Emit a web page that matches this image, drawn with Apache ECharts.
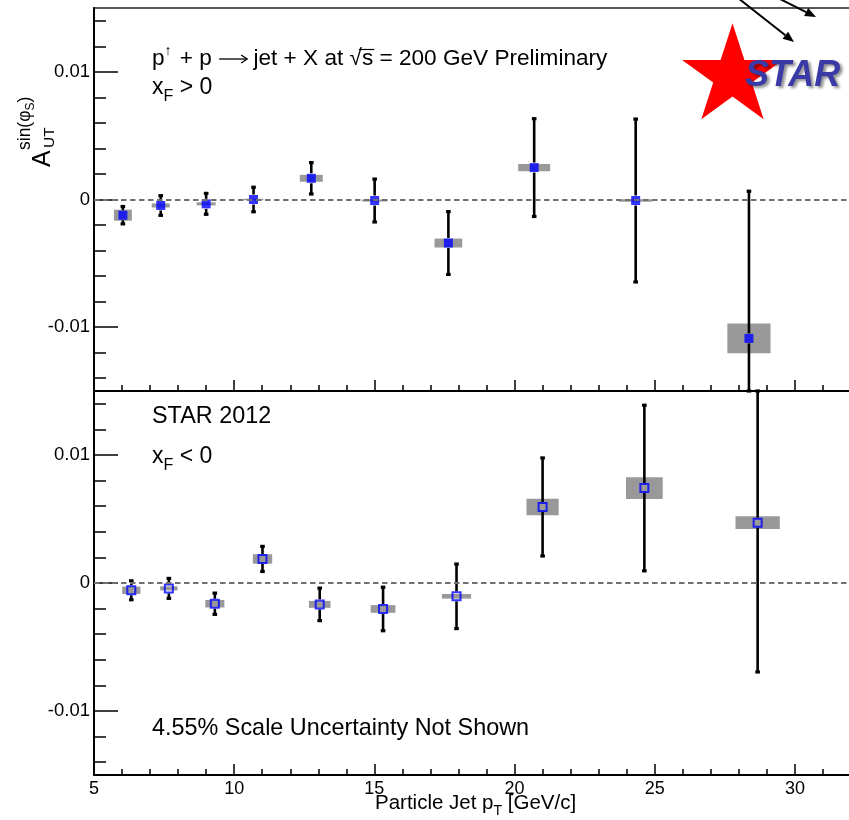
<!DOCTYPE html>
<html>
<head>
<meta charset="utf-8">
<script src="https://cdn.jsdelivr.net/npm/echarts@6/dist/echarts.min.js"></script>
<style>
  html, body { margin: 0; padding: 0; background: #fff; }
  #chart { width: 849px; height: 820px; }
</style>
</head>
<body>
<div id="chart"></div>
<script>
// A_UT^{sin(phi_S)} for particle jets vs pT, STAR 2012, two x_F hemispheres.

// x_F > 0 (upper panel)
const ptFwd   = [6.03, 7.38, 9.00, 10.69, 12.75, 15.01, 17.64, 20.70, 24.32, 28.36];
const aFwd    = [-0.00123, -0.00047, -0.00034, 0.00000, 0.00166, -0.00008, -0.00341, 0.00250, -0.00008, -0.01088];
const statFwd = [0.00068, 0.00077, 0.00082, 0.00096, 0.00123, 0.00168, 0.00246, 0.00383, 0.00638, 0.01153];
const sysFwd  = [0.00043, 0.00016, 0.00012, 0.00006, 0.00027, 0.00008, 0.00035, 0.00029, 0.00010, 0.00117];
const binWFwd = [0.64, 0.64, 0.68, 0.70, 0.82, 0.90, 0.99, 1.14, 1.18, 1.54];

// x_F < 0 (lower panel)
const ptBwd   = [6.33, 7.67, 9.31, 11.01, 13.05, 15.31, 17.93, 21.00, 24.63, 28.67];
const aBwd    = [-0.00057, -0.00042, -0.00162, 0.00188, -0.00167, -0.00203, -0.00104, 0.00594, 0.00742, 0.00471];
const statBwd = [0.00074, 0.00078, 0.00083, 0.00098, 0.00127, 0.00170, 0.00252, 0.00383, 0.00647, 0.01166];
const sysBwd  = [0.00029, 0.00016, 0.00029, 0.00037, 0.00027, 0.00030, 0.00018, 0.00065, 0.00085, 0.00050];
const binWBwd = [0.65, 0.62, 0.68, 0.69, 0.77, 0.88, 1.04, 1.15, 1.31, 1.58];

// Axis ticks and labels
const xMajorTicks = [5, 10, 15, 20, 25, 30];
const xMinorTicks = [5, 6, 7, 8, 9, 10, 11, 12, 13, 14, 15, 16, 17, 18, 19, 20, 21, 22, 23, 24, 25, 26, 27, 28, 29, 30, 31, 32];
const yMajorTicks = [-0.01, 0, 0.01];
const yMinorTicks = [-0.014, -0.012, -0.01, -0.008, -0.006, -0.004, -0.002, 0, 0.002, 0.004, 0.006, 0.008, 0.01, 0.012, 0.014];

const FONT = '"Liberation Sans", Arial, Helvetica, sans-serif';

function rows(pt, a, stat, sys, w) {
  return pt.map((x, i) => [x, a[i], stat[i], sys[i], w[i]]);
}

function renderSys(params, api) {
  const x = api.value(0), y = api.value(1), s = api.value(3), w = api.value(4);
  const p0 = api.coord([x - w / 2, y + s]);
  const p1 = api.coord([x + w / 2, y - s]);
  return {
    type: 'rect',
    shape: { x: p0[0], y: p0[1], width: p1[0] - p0[0], height: p1[1] - p0[1] },
    style: { fill: '#999999' }
  };
}

function renderErr(params, api) {
  const x = api.value(0), y = api.value(1), e = api.value(2);
  const c = api.coord([x, y]);
  const cs = params.coordSys;
  const yTop = Math.max(api.coord([x, y + e])[1], cs.y);
  const yBot = Math.min(api.coord([x, y - e])[1], cs.y + cs.height);
  const gap = 5;
  const kids = [];
  const seg = (y1, y2) => ({ type: 'line', shape: { x1: c[0], y1: y1, x2: c[0], y2: y2 },
                             style: { stroke: '#000', lineWidth: 2.6 } });
  if (c[1] - gap > yTop) kids.push(seg(yTop, c[1] - gap));
  if (c[1] + gap < yBot) kids.push(seg(c[1] + gap, yBot));
  [yTop, yBot].forEach(yy => kids.push({ type: 'rect',
    shape: { x: c[0] - 2.3, y: yy - 1.6, width: 4.6, height: 3.2 }, style: { fill: '#000' } }));
  return { type: 'group', children: kids };
}

function xAxes(grid, withLabels) {
  return [
    { gridIndex: grid, type: 'value', min: 5, max: 32, position: 'bottom',
      axisLine: { show: true, onZero: false, lineStyle: { color: '#000', width: 2 } },
      axisTick: { show: true, inside: true, length: 11, customValues: xMajorTicks,
                  lineStyle: { color: '#000', width: 1.5 } },
      axisLabel: { show: withLabels, customValues: xMajorTicks, margin: 5,
                   fontFamily: FONT, fontSize: 18, color: '#000' },
      splitLine: { show: false } },
    { gridIndex: grid, type: 'value', min: 5, max: 32, position: 'bottom',
      axisLine: { show: false, onZero: false },
      axisTick: { show: true, inside: true, length: 6, customValues: xMinorTicks,
                  lineStyle: { color: '#000', width: 1.5 } },
      axisLabel: { show: false }, splitLine: { show: false } }
  ];
}

function yAxes(grid) {
  return [
    { gridIndex: grid, type: 'value', min: -0.015, max: 0.015, position: 'left',
      axisLine: { show: true, onZero: false, lineStyle: { color: '#000', width: 2 } },
      axisTick: { show: true, inside: true, length: 24, customValues: yMajorTicks,
                  lineStyle: { color: '#000', width: 1.5 } },
      axisLabel: { show: true, customValues: yMajorTicks, margin: 4,
                   fontFamily: FONT, fontSize: 18.5, color: '#000',
                   formatter: v => (v === 0 ? '0' : String(v)) },
      splitLine: { show: false } },
    { gridIndex: grid, type: 'value', min: -0.015, max: 0.015, position: 'left',
      axisLine: { show: false, onZero: false },
      axisTick: { show: true, inside: true, length: 12, customValues: yMinorTicks,
                  lineStyle: { color: '#000', width: 1.5 } },
      axisLabel: { show: false }, splitLine: { show: false } }
  ];
}

function panelSeries(xi, yi, data, filled) {
  return [
    { type: 'custom', xAxisIndex: xi, yAxisIndex: yi, z: 1, silent: true,
      renderItem: renderSys, data: data, encode: { x: 0, y: 1 } },
    { type: 'custom', xAxisIndex: xi, yAxisIndex: yi, z: 2, silent: true,
      renderItem: renderErr, data: data, encode: { x: 0, y: 1 } },
    { type: 'scatter', xAxisIndex: xi, yAxisIndex: yi, z: 3, silent: true,
      symbol: 'rect', symbolSize: filled ? 9 : 8,
      itemStyle: filled ? { color: '#0000ff' }
                        : { color: 'rgba(0,0,0,0)', borderColor: '#0000ff', borderWidth: 2 },
      data: data.map(r => [r[0], r[1]]) },
    { type: 'scatter', xAxisIndex: xi, yAxisIndex: yi, z: 5, silent: true, data: [],
      markLine: { silent: true, symbol: ['none', 'none'], label: { show: false },
                  lineStyle: { color: '#707070', width: 2, type: [5.5, 3.5] },
                  data: [{ yAxis: 0 }] } }
  ];
}

// Lay out a run of text pieces on one baseline (sub/superscripts via dy)
const measure = document.createElement('canvas').getContext('2d');
function textRun(x0, baseline, size, pieces) {
  let cx = x0;
  const els = [], spans = [];
  pieces.forEach(p => {
    const fs = p.size || size;
    const font = 'normal normal ' + fs + 'px ' + FONT;
    measure.font = font;
    const w = p.t ? measure.measureText(p.t).width : 0;
    if (p.t) {
      els.push({ type: 'text', x: cx, y: baseline + (p.dy || 0) - 0.35 * fs,
        style: { text: p.t, font: font, fill: '#000', align: 'left', verticalAlign: 'middle' } });
    }
    spans.push({ x: cx, w: w + (p.after || 0) });
    cx += w + (p.after || 0);
  });
  return { els: els, spans: spans };
}

const graphics = [];

// Upper-panel annotation
const title = textRun(152, 66.5, 22.6, [
  { t: 'p' }, { t: '\u2191', size: 14, dy: -10, after: 2 }, { t: ' + p ' }, { t: '', after: 29 },
  { t: ' jet + X at ' }, { t: '\u221A' }, { t: 's' }, { t: ' = 200 GeV Preliminary' }
]);
graphics.push(...title.els);
{
  // reaction arrow
  const a = title.spans[3], ay = 66.5 - 7.5;
  const x1 = a.x + 1, x2 = a.x + a.w;
  graphics.push({ type: 'line', shape: { x1: x1, y1: ay, x2: x2, y2: ay }, style: { stroke: '#000', lineWidth: 1.3 } });
  graphics.push({ type: 'polyline', shape: { points: [[x2 - 6, ay - 4], [x2, ay], [x2 - 6, ay + 4]] },
                  style: { stroke: '#000', lineWidth: 1.3, fill: null } });
  // overline of the square root
  const r = title.spans[5], s = title.spans[6];
  graphics.push({ type: 'line', shape: { x1: r.x + r.w * 0.75, y1: 66.5 - 17, x2: s.x + s.w + 1, y2: 66.5 - 17 },
                  style: { stroke: '#000', lineWidth: 1.2 } });
}
graphics.push(...textRun(152, 96, 23, [{ t: 'x' }, { t: 'F', size: 16, dy: 6 }, { t: ' > 0' }]).els);

// Lower-panel annotations
graphics.push(...textRun(152, 425, 23.4, [{ t: 'STAR 2012' }]).els);
graphics.push(...textRun(152, 465, 23, [{ t: 'x' }, { t: 'F', size: 16, dy: 6 }, { t: ' < 0' }]).els);
graphics.push(...textRun(152, 737, 23.4, [{ t: '4.55% Scale Uncertainty Not Shown' }]).els);

// x-axis title
graphics.push(...textRun(375, 811, 20.5, [{ t: 'Particle Jet p' }, { t: 'T', size: 14, dy: 5 }, { t: ' [GeV/c]' }]).els);

// y-axis title, rotated to read bottom-to-top
{
  const kids = [];
  kids.push(...textRun(0, 0, 25, [{ t: 'A' }]).els);
  kids.push(...textRun(19, 3, 15.5, [{ t: 'UT' }]).els);
  kids.push(...textRun(17, -21, 17.5, [{ t: 'sin(\u03C6' }, { t: 'S', size: 12, dy: 4 }, { t: ')' }]).els);
  graphics.push({ type: 'group', x: 52, y: 167, rotation: Math.PI / 2, children: kids });
}

// STAR logo: red star, lettering and arrows
{
  const cx = 732.5, cy = 76.3, R = 53, r = 20.3;
  const pts = [];
  for (let k = 0; k < 10; k++) {
    const ang = -Math.PI / 2 + k * Math.PI / 5;
    const rad = k % 2 === 0 ? R : r;
    pts.push([cx + rad * Math.cos(ang), cy + rad * Math.sin(ang)]);
  }
  graphics.push({ type: 'polygon', shape: { points: pts }, style: { fill: '#ff0000' }, z: 20 });
  graphics.push({ type: 'text', x: 745, y: 94, z: 21,
    style: { text: 'STAR', font: 'italic bold 36px ' + FONT, fill: '#3a3aa6', align: 'left',
             verticalAlign: 'bottom', textShadowColor: 'rgba(0,0,0,0.45)', textShadowBlur: 3,
             textShadowOffsetX: 2.5, textShadowOffsetY: 2.5 } });
  const arrow = (x1, y1, x2, y2) => {
    const dx = x2 - x1, dy = y2 - y1, L = Math.hypot(dx, dy), ux = dx / L, uy = dy / L;
    const hl = 11, hw = 4.5;
    const bx = x2 - ux * hl, by = y2 - uy * hl;
    graphics.push({ type: 'line', z: 20, shape: { x1: x1, y1: y1, x2: bx, y2: by }, style: { stroke: '#000', lineWidth: 2 } });
    graphics.push({ type: 'polygon', z: 20, shape: { points: [[x2, y2], [bx - uy * hw, by + ux * hw], [bx + uy * hw, by - ux * hw]] },
                    style: { fill: '#000' } });
  };
  arrow(738, -2, 794, 42);
  arrow(778, -2, 816, 17);
}

const chart = echarts.init(document.getElementById('chart'), null, { renderer: 'canvas' });
chart.setOption({
  animation: false,
  backgroundColor: '#fff',
  grid: [
    { left: 94, top: 8, width: 757, height: 383, show: true, borderColor: '#222', borderWidth: 1.5,
      backgroundColor: 'transparent', outerBoundsMode: 'none', containLabel: false },
    { left: 94, top: 391, width: 757, height: 384, show: true, borderColor: '#000', borderWidth: 1.5,
      backgroundColor: 'transparent', outerBoundsMode: 'none', containLabel: false }
  ],
  xAxis: [...xAxes(0, false), ...xAxes(1, true)],
  yAxis: [...yAxes(0), ...yAxes(1)],
  series: [
    ...panelSeries(0, 0, rows(ptFwd, aFwd, statFwd, sysFwd, binWFwd), true),
    ...panelSeries(2, 2, rows(ptBwd, aBwd, statBwd, sysBwd, binWBwd), false)
  ],
  graphic: graphics
});
</script>
</body>
</html>
